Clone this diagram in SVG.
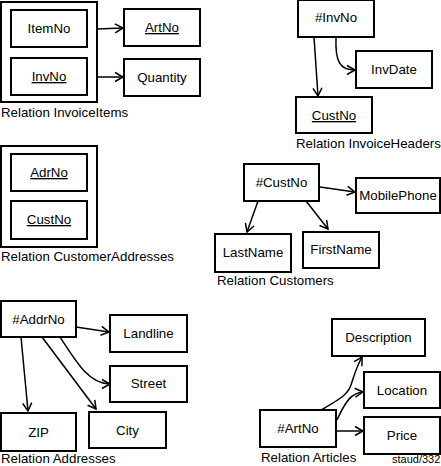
<svg xmlns="http://www.w3.org/2000/svg" width="441" height="466" viewBox="0 0 441 466">
<defs>
<style>
.b{fill:#fff;stroke:#000;stroke-width:2}
.o{fill:none;stroke:#000;stroke-width:2}
.t{font-family:"Liberation Sans",Arial,sans-serif;font-size:13.3px;fill:#000;text-anchor:middle}
.u{text-decoration:underline}
.l{font-family:"Liberation Sans",Arial,sans-serif;font-size:13.3px;fill:#000}
.s{font-family:"Liberation Sans",Arial,sans-serif;font-size:11px;fill:#000}
.c{fill:none;stroke:#000;stroke-width:1.5;marker-end:url(#a)}
</style>
<marker id="a" markerUnits="userSpaceOnUse" markerWidth="12" markerHeight="12" viewBox="-9 -6 12 12" refX="0" refY="0" orient="auto">
<path d="M-8,-4.5 L0,0 L-8,4.5" fill="none" stroke="#000" stroke-width="1.5"/>
</marker>
</defs>
<rect width="441" height="466" fill="#fff"/>

<g id="connectors">
<path class="c" d="M97,29 L123,28"/>
<path class="c" d="M97,77 L123,77"/>
<path class="c" d="M314,37 L318,96"/>
<path class="c" d="M336,37 C335,62 340,70 355,70"/>
<path class="c" d="M320,187 L355,192"/>
<path class="c" d="M258,201 L247,232"/>
<path class="c" d="M306,201 L328,229"/>
<path class="c" d="M76,327 L109,332"/>
<path class="c" d="M21,337 L28,411"/>
<path class="c" d="M42,337 L96,409"/>
<path class="c" d="M60,337 C78,365 90,384 110,384"/>
<path class="c" d="M336,431 L363,431"/>
<path class="c" d="M337,420 C346,400 352,393 363,392"/>
<path class="c" d="M321,410 C338,400 347,396 351,385 C355,372 358,364 362,357"/>
</g>

<g id="InvoiceItems">
<rect class="o" x="1" y="2" width="96" height="100"/>
<text class="l" x="1" y="117">Relation InvoiceItems</text>
</g>
<g id="ItemNo"><rect class="b" x="11" y="10" width="76" height="37"/><text class="t" x="49" y="33">ItemNo</text></g>
<g id="InvNo"><rect class="b" x="11" y="58" width="76" height="37"/><text class="t u" x="49" y="81">InvNo</text></g>
<g id="ArtNo"><rect class="b" x="124" y="9" width="76" height="37"/><text class="t u" x="162" y="32">ArtNo</text></g>
<g id="Quantity"><rect class="b" x="124" y="59" width="76" height="37"/><text class="t" x="162" y="82">Quantity</text></g>

<g id="InvoiceHeaders"><text class="l" x="296" y="148">Relation InvoiceHeaders</text></g>
<g id="hInvNo"><rect class="b" x="298" y="0" width="76" height="37"/><text class="t" x="336" y="22">#InvNo</text></g>
<g id="InvDate"><rect class="b" x="356" y="51" width="76" height="37"/><text class="t" x="394" y="74">InvDate</text></g>
<g id="hCustNo"><rect class="b" x="296" y="97" width="76" height="36"/><text class="t u" x="334" y="120">CustNo</text></g>

<g id="CustomerAddresses">
<rect class="o" x="1" y="146" width="96" height="101"/>
<text class="l" x="1" y="261">Relation CustomerAddresses</text>
</g>
<g id="AdrNo"><rect class="b" x="11" y="154" width="76" height="37"/><text class="t u" x="49" y="177">AdrNo</text></g>
<g id="caCustNo"><rect class="b" x="11" y="201" width="76" height="38"/><text class="t u" x="49" y="224">CustNo</text></g>

<g id="Customers"><text class="l" x="217" y="285">Relation Customers</text></g>
<g id="cCustNo"><rect class="b" x="244" y="164" width="75" height="37"/><text class="t" x="281.5" y="187">#CustNo</text></g>
<g id="MobilePhone"><rect class="b" x="356" y="178" width="84" height="35"/><text class="t" x="398" y="200">MobilePhone</text></g>
<g id="LastName"><rect class="b" x="215" y="234" width="76" height="38"/><text class="t" x="253" y="257">LastName</text></g>
<g id="FirstName"><rect class="b" x="303" y="232" width="76" height="36"/><text class="t" x="341" y="254">FirstName</text></g>

<g id="Addresses"><text class="l" x="1" y="463">Relation Addresses</text></g>
<g id="AddrNo"><rect class="b" x="1" y="301" width="75" height="36"/><text class="t" x="38.5" y="324">#AddrNo</text></g>
<g id="Landline"><rect class="b" x="110" y="315" width="77" height="37"/><text class="t" x="148.5" y="338">Landline</text></g>
<g id="Street"><rect class="b" x="110" y="366" width="77" height="36"/><text class="t" x="148.5" y="388">Street</text></g>
<g id="ZIP"><rect class="b" x="1" y="413" width="75" height="38"/><text class="t" x="38.5" y="437">ZIP</text></g>
<g id="City"><rect class="b" x="89" y="412" width="77" height="36"/><text class="t" x="127.5" y="435">City</text></g>

<g id="Articles"><text class="l" x="261" y="462">Relation Articles</text><text class="s" x="392" y="463">staud/332</text></g>
<g id="aArtNo"><rect class="b" x="260" y="410" width="76" height="37"/><text class="t" x="298" y="433">#ArtNo</text></g>
<g id="Description"><rect class="b" x="332" y="319" width="93" height="37"/><text class="t" x="378.5" y="342">Description</text></g>
<g id="Location"><rect class="b" x="364" y="372" width="76" height="36"/><text class="t" x="402" y="395">Location</text></g>
<g id="Price"><rect class="b" x="364" y="417" width="76" height="37"/><text class="t" x="402" y="440">Price</text></g>
</svg>
